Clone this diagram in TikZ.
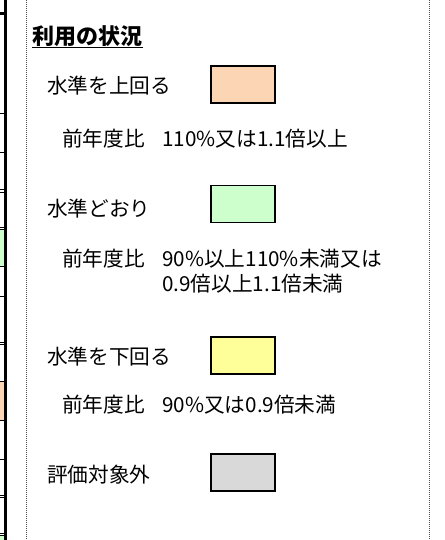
\documentclass[tikz,border=0pt]{standalone}
\usepackage{fontspec}
\newfontfamily\jp{Noto Sans CJK JP}
\definecolor{aboveclr}{HTML}{FCD5B4}
\definecolor{levelclr}{HTML}{CCFFCC}
\definecolor{belowclr}{HTML}{FFFF99}
\definecolor{outclr}{HTML}{D9D9D9}
\tikzset{
  swatch/.style={draw, line width=1.1pt, minimum width=48pt, minimum height=27.5pt},
  frameline/.style={draw=black!70, line width=0.75pt, dash pattern=on 0.75pt off 0.75pt},
}
\begin{document}
\begin{tikzpicture}[x=0.75pt, y=-0.75pt, every node/.style={inner sep=0, font=\jp\fontsize{15.5}{18.75}\selectfont}]
      \useasboundingbox (0,0) rectangle (445,540);

      % Cut-off table on the left
      \fill[levelclr] (0,230) rectangle (4,266);
      \fill[aboveclr] (0,382) rectangle (4,420);
      \fill[levelclr] (0,536) rectangle (4,540);
      \fill[black] (4,0) rectangle (7,540);
      \fill[black] (0,12) rectangle (4,15);
      \foreach \y in {113,152,189,192,227,229,266,296,342,344,381,420,459,495,497,533,535} {
        \draw[line width=0.75pt] (0,\y) -- (4,\y);
      }

      % Dotted frame
      \draw[frameline] (26,0) -- (26,540);
      \draw[frameline] (429,0) -- (429,540);

      % Title
      \node[anchor=west, font=\jp\bfseries\fontsize{16.5}{18.75}\selectfont] (title) at (32,36.5) {利用の状況};
      \draw[line width=1.1pt] (title.south west) -- (title.south east);

      % Legend rows & colour swatches
      \foreach \lbl/\col/\ty/\by [count=\n] in {
        水準を上回る/aboveclr/86/84.5,
        水準どおり/levelclr/208.5/204,
        水準を下回る/belowclr/357/355.5,
        評価対象外/outclr/475/472.5} {
        \node[anchor=west] (level\n) at (47,\ty) {\lbl};
        \node[swatch, fill=\col] (swatch\n) at (243,\by) {};
      }

      % Ratios to previous year
      \node[anchor=west] (ratio1) at (62,138.5) {前年度比};
      \node[anchor=west] (value1) at (162,138.5) {110\%又は1.1倍以上};
      \node[anchor=west] (ratio2) at (62,258.5) {前年度比};
      \node[anchor=west, align=left] (value2) at (162,271) {90\%以上110\%未満又は\\0.9倍以上1.1倍未満};
      \node[anchor=west] (ratio3) at (62,405) {前年度比};
      \node[anchor=west] (value3) at (162,405) {90\%又は0.9倍未満};
    \end{tikzpicture}
\end{document}
